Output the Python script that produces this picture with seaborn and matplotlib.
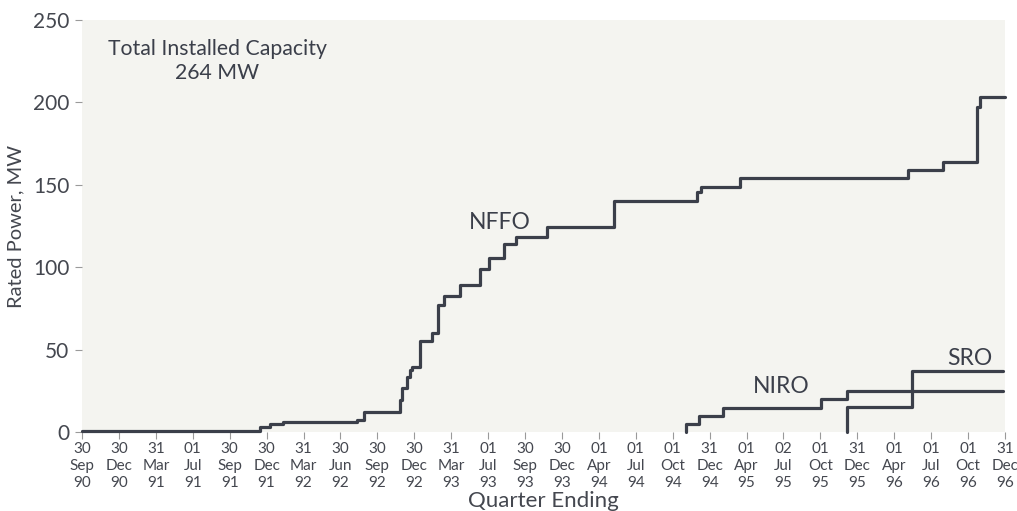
import numpy as np
import pandas as pd
import matplotlib
matplotlib.use("Agg")
import matplotlib.pyplot as plt
import seaborn as sns

# quarter-ending tick labels (one tick per quarter, index 0..25)
tick_day = ["30", "30", "31", "01", "30", "30", "31", "30", "30", "30", "31", "01", "30",
            "30", "01", "01", "01", "31", "01", "02", "01", "31", "01", "01", "01", "31"]
tick_mon = ["Sep", "Dec", "Mar", "Jul", "Sep", "Dec", "Mar", "Jun", "Sep", "Dec", "Mar", "Jul", "Sep",
            "Dec", "Apr", "Jul", "Oct", "Dec", "Apr", "Jul", "Oct", "Dec", "Apr", "Jul", "Oct", "Dec"]
tick_yr = ["90", "90", "91", "91", "91", "91", "92", "92", "92", "92", "93", "93", "93",
           "93", "94", "94", "94", "94", "95", "95", "95", "95", "96", "96", "96", "96"]

# cumulative rated power (MW), x in quarters since 30 Sep 90
nffo_q = [0, 4.83, 5.1, 5.45, 7.46, 7.65, 8.62, 8.67, 8.81, 8.88, 8.94, 9.16, 9.48, 9.63,
          9.80, 10.25, 10.79, 11.02, 11.44, 11.76, 12.60, 14.41, 16.67, 16.76, 17.82,
          22.38, 23.32, 24.24, 24.33, 25.0]
nffo_mw = [0.5, 3, 5, 6, 7, 12.3, 19.4, 26.5, 33.6, 37.6, 39.6, 55.4, 59.9, 77.1,
           82.7, 89.2, 98.9, 105.4, 114.1, 118.5, 124.6, 140.3, 145.8, 148.9, 153.9,
           159, 163.6, 197.4, 203.5, 203.5]

niro_q = [16.35, 16.35, 16.71, 17.37, 20.01, 20.72, 24.95]
niro_mw = [0, 4.9, 9.9, 14.4, 19.8, 25.1, 25.1]

sro_q = [20.72, 20.72, 22.48, 24.95]
sro_mw = [0, 15, 37.2, 37.2]

frames = []
for name, q, mw in [("NFFO", nffo_q, nffo_mw), ("NIRO", niro_q, niro_mw), ("SRO", sro_q, sro_mw)]:
    frames.append(pd.DataFrame({"quarter": q, "mw": mw, "scheme": name}))
df = pd.concat(frames, ignore_index=True)

sns.set_style("white")
plt.rcParams["font.family"] = ["Lato", "DejaVu Sans"]

ink = "#3b3f4a"
fig = plt.figure(figsize=(10.17, 5.11), dpi=100)
ax = fig.add_axes([82 / 1017, 79 / 511, 923 / 1017, 412 / 511])
ax.set_facecolor("#f4f4f0")

sns.lineplot(data=df, x="quarter", y="mw", units="scheme", estimator=None, sort=False,
             drawstyle="steps-post", color=ink, linewidth=2.3, ax=ax, clip_on=False)

ax.set_xlim(0, 25)
ax.set_ylim(0, 250)
for s in ax.spines.values():
    s.set_visible(False)

ax.set_xticks(range(len(tick_day)))
ax.set_xticklabels([f"{d}\n{m}\n{y}" for d, m, y in zip(tick_day, tick_mon, tick_yr)],
                   fontsize=11, linespacing=1.28, color="#44474f")
ax.set_yticks([0, 50, 100, 150, 200, 250])
ax.set_yticklabels(["0", "50", "100", "150", "200", "250"], fontsize=15, color="#44474f")
ax.tick_params(axis="x", direction="out", length=5, width=0.8, color="#9a9a9a", pad=2)
ax.tick_params(axis="y", direction="out", length=5, width=0.8, color="#9a9a9a", pad=4)
ax.tick_params(bottom=True, left=True)

ax.set_xlabel("Quarter Ending", fontsize=16, color="#44474f")
ax.xaxis.set_label_coords(0.5, -0.168)
ax.xaxis.label.set_va("center")
ax.set_ylabel("Rated Power, MW", fontsize=14.5, color="#44474f", labelpad=6)

ax.text(3.66, 225, "Total Installed Capacity\n264 MW", ha="center", va="center",
        fontsize=15.3, color=ink, linespacing=1.25)
ax.text(11.33, 127.4, "NFFO", ha="center", va="center", fontsize=16.5, color=ink)
ax.text(18.95, 27.9, "NIRO", ha="center", va="center", fontsize=16.5, color=ink)
ax.text(24.06, 44.9, "SRO", ha="center", va="center", fontsize=16.5, color=ink)

fig.savefig("out.png", dpi=100, facecolor="white")
